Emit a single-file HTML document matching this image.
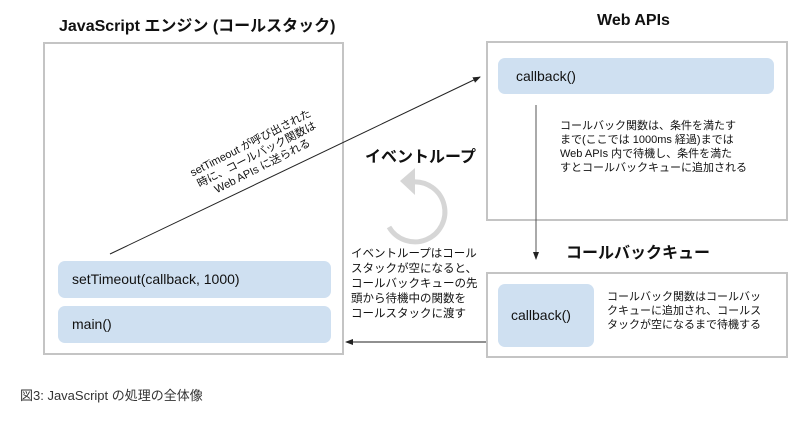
<!DOCTYPE html>
<html><head><meta charset="utf-8"><style>
body{margin:0;width:806px;height:424px;background:#fff;position:relative;overflow:hidden;font-family:"Liberation Sans","Noto Sans CJK JP",sans-serif;color:#111}
.a{position:absolute}
.box{position:absolute;border:2px solid #c4c4c4;box-sizing:border-box}
.blue{position:absolute;background:#cfe0f1;border-radius:7px;font-size:14px;box-sizing:border-box}
.t{position:absolute;font-size:11px;line-height:14px;white-space:nowrap}
.h{position:absolute;font-weight:bold;font-size:16px;white-space:nowrap}
</style></head><body>
<div class="h" style="left:59px;top:12px">JavaScript エンジン (コールスタック)</div>
<div class="h" style="left:597px;top:12px">Web APIs</div>
<div class="h" style="left:365px;top:143px">イベントループ</div>
<div class="h" style="left:566px;top:239px">コールバックキュー</div>

<div class="box" style="left:43px;top:42px;width:301px;height:313px"></div>
<div class="box" style="left:486px;top:41px;width:302px;height:180px"></div>
<div class="box" style="left:486px;top:272px;width:302px;height:86px"></div>

<div class="blue" style="left:58px;top:261px;width:273px;height:37px;padding:10px 0 0 14px">setTimeout(callback, 1000)</div>
<div class="blue" style="left:58px;top:306px;width:273px;height:37px;padding:10px 0 0 14px">main()</div>
<div class="blue" style="left:498px;top:58px;width:276px;height:36px;padding:10px 0 0 18px">callback()</div>
<div class="blue" style="left:498px;top:284px;width:96px;height:63px;padding:23px 0 0 13px">callback()</div>

<div class="t" style="left:560px;top:119px">コールバック関数は、条件を満たす<br>まで(ここでは 1000ms 経過)までは<br>Web APIs 内で待機し、条件を満た<br>すとコールバックキューに追加される</div>
<div class="t" style="left:607px;top:290px">コールバック関数はコールバッ<br>クキューに追加され、コールス<br>タックが空になるまで待機する</div>
<div class="t" style="left:351px;top:247px;font-size:11.5px;line-height:15px">イベントループはコール<br>スタックが空になると、<br>コールバックキューの先<br>頭から待機中の関数を<br>コールスタックに渡す</div>
<div class="t" style="left:190px;top:136px;transform:rotate(-27deg);transform-origin:center;text-align:center;line-height:13px">setTimeout が呼び出された<br>時に、コールバック関数は<br>Web APIs に送られる</div>

<div class="t" style="left:20px;top:389px;font-size:13px;color:#333">図3: JavaScript の処理の全体像</div>

<svg class="a" style="left:0;top:0" width="806" height="424">
<defs><marker id="m" markerWidth="8" markerHeight="8" refX="7" refY="4" orient="auto" markerUnits="userSpaceOnUse"><path d="M0,1 L8,4 L0,7z" fill="#222"/></marker></defs>
<line x1="110" y1="254" x2="480" y2="77" stroke="#222" stroke-width="1" marker-end="url(#m)"/>
<line x1="536" y1="105" x2="536" y2="259" stroke="#555" stroke-width="1" marker-end="url(#m)"/>
<line x1="486" y1="342" x2="346" y2="342" stroke="#222" stroke-width="1" marker-end="url(#m)"/>
<path d="M412,182 A30,30 0 1 1 389,227" fill="none" stroke="#d6d6d6" stroke-width="5"/>
<path d="M400,181 L415,168 L415,195z" fill="#d6d6d6"/>
</svg>
</body></html>
